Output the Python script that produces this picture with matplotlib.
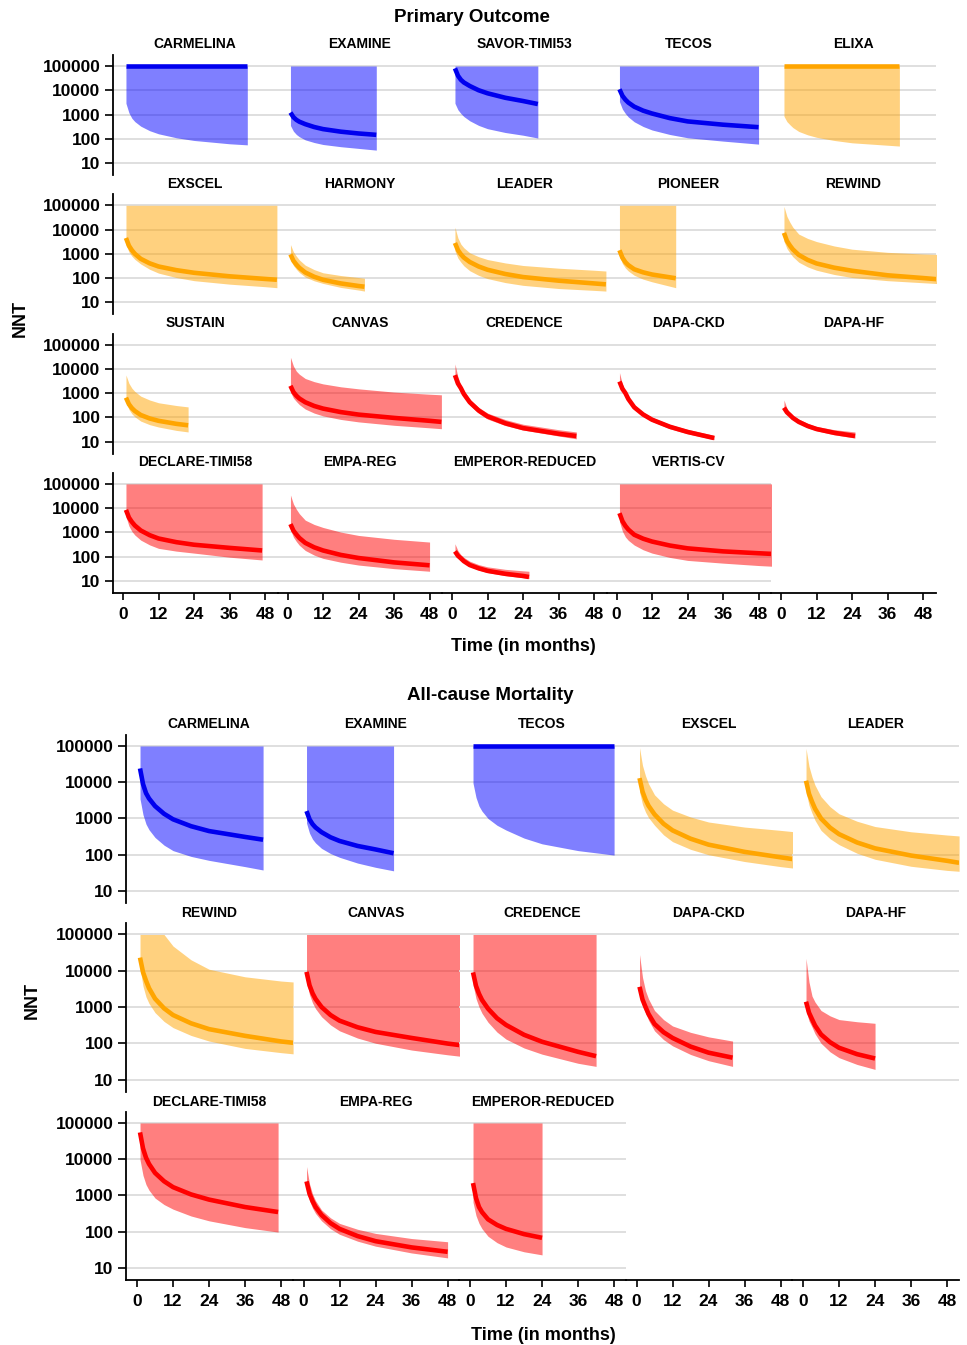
import matplotlib.pyplot as plt
from matplotlib.ticker import LogLocator, NullLocator, NullFormatter

plt.rcParams['font.family'] = ['Liberation Sans', 'DejaVu Sans']

W, H = 967, 1345
CAP = 100000  # upper limit that is drawn as "infinite"

# ---------------- Primary outcome ----------------
po_names = ['CARMELINA', 'EXAMINE', 'SAVOR-TIMI53', 'TECOS', 'ELIXA',
            'EXSCEL', 'HARMONY', 'LEADER', 'PIONEER', 'REWIND',
            'SUSTAIN', 'CANVAS', 'CREDENCE', 'DAPA-CKD', 'DAPA-HF',
            'DECLARE-TIMI58', 'EMPA-REG', 'EMPEROR-REDUCED', 'VERTIS-CV']
po_class = ['blue', 'blue', 'blue', 'blue', 'orange',
            'orange', 'orange', 'orange', 'orange', 'orange',
            'orange', 'red', 'red', 'red', 'red',
            'red', 'red', 'red', 'red']
po_months = [
    [1, 2, 3, 4, 6, 9, 12, 18, 24, 36, 42],
    [1, 2, 3, 4, 6, 9, 12, 18, 24, 30],
    [1, 2, 3, 4, 6, 9, 12, 18, 24, 29],
    [1, 2, 3, 4, 6, 9, 12, 18, 24, 36, 48],
    [1, 2, 3, 4, 6, 9, 12, 18, 24, 36, 40],
    [1, 2, 3, 4, 6, 9, 12, 18, 24, 36, 48, 52],
    [1, 2, 3, 4, 6, 9, 12, 18, 24, 26],
    [1, 2, 3, 4, 6, 9, 12, 18, 24, 36, 48, 52],
    [1, 2, 3, 4, 6, 9, 12, 20],
    [1, 2, 3, 4, 6, 9, 12, 18, 24, 36, 48, 53],
    [1, 2, 3, 4, 6, 9, 12, 18, 22],
    [1, 2, 3, 4, 6, 9, 12, 18, 24, 36, 48, 52],
    [1, 2, 3, 4, 6, 9, 12, 18, 24, 36, 42],
    [1, 2, 3, 4, 6, 9, 12, 18, 24, 33],
    [1, 2, 3, 4, 6, 9, 12, 18, 25],
    [1, 2, 3, 4, 6, 9, 12, 18, 24, 36, 47],
    [1, 2, 3, 4, 6, 9, 12, 18, 24, 36, 48],
    [1, 2, 3, 4, 6, 9, 12, 18, 24, 26],
    [1, 2, 3, 4, 6, 9, 12, 18, 24, 36, 48, 53],
]
po_nnt = [
    [CAP] * 11,
    [1200, 775, 600, 505, 400, 305, 250, 196, 165, 145],
    [80000, 40000, 27000, 21000, 15000, 10000, 7500, 4900, 3600, 2700],
    [11000, 5900, 4100, 3100, 2100, 1440, 1100, 710, 520, 380, 300],
    [CAP] * 11,
    [4500, 2150, 1400, 1000, 620, 405, 300, 212, 165, 118, 92, 85],
    [950, 515, 360, 265, 170, 113, 85, 60, 47, 44],
    [2800, 1420, 950, 700, 460, 300, 220, 147, 110, 78, 60, 55],
    [1400, 685, 450, 340, 230, 172, 140, 98],
    [7300, 3400, 2200, 1520, 900, 560, 400, 267, 200, 130, 100, 89],
    [650, 347, 240, 183, 125, 90, 72, 54, 47],
    [2000, 1100, 780, 600, 420, 295, 230, 165, 130, 95, 72, 65],
    [5500, 2500, 1600, 920, 420, 192, 110, 57, 36, 21, 17],
    [3000, 1500, 1000, 570, 260, 131, 80, 41, 25, 14],
    [250, 162, 125, 95, 65, 44, 33, 23, 17],
    [8500, 4100, 2700, 1930, 1200, 770, 560, 396, 310, 230, 180],
    [2200, 1180, 820, 590, 370, 243, 180, 118, 88, 58, 44],
    [165, 109, 85, 65, 45, 33, 26, 19.6, 16, 14.5],
    [6200, 2900, 1850, 1310, 800, 550, 420, 288, 220, 165, 138, 129],
]
po_lower = [
    [2900, 1180, 700, 510, 330, 215, 160, 110, 85, 62, 56],
    [350, 205, 150, 121, 90, 70, 58, 47, 40, 34],
    [2900, 1570, 1100, 825, 550, 355, 260, 181, 140, 107],
    [3400, 1670, 1100, 790, 500, 320, 230, 150, 110, 80, 60],
    [850, 510, 380, 290, 200, 145, 115, 85, 68, 54, 50],
    [2400, 1200, 800, 590, 380, 230, 160, 105, 78, 56, 44, 40],
    [600, 330, 230, 170, 110, 77, 60, 41, 32, 29],
    [1300, 665, 450, 320, 200, 129, 95, 65, 50, 37, 31, 29],
    [800, 395, 260, 195, 130, 90, 70, 40],
    [3300, 1650, 1100, 760, 450, 288, 210, 140, 105, 78, 64, 59],
    [430, 212, 140, 105, 70, 50, 40, 29, 25],
    [1100, 625, 450, 335, 220, 150, 115, 82, 65, 47, 37, 34],
    [4500, 1960, 1200, 690, 320, 147, 85, 46, 30, 17, 13],
    [2700, 1300, 850, 485, 220, 111, 68, 34, 21, 12],
    [220, 142, 110, 83, 56, 37, 28, 19, 14],
    [4500, 1850, 1100, 780, 480, 305, 220, 169, 140, 95, 73],
    [1300, 640, 420, 295, 180, 116, 85, 59, 45, 32, 25],
    [150, 97, 75, 58, 40, 28, 22, 16.5, 13.5, 12.5],
    [2800, 1115, 650, 470, 300, 192, 140, 93, 70, 54, 43, 40],
]
po_upper = [
    [CAP] * 11,
    [CAP] * 10,
    [CAP] * 10,
    [CAP] * 11,
    [CAP] * 11,
    [CAP] * 12,
    [2400, 1200, 800, 560, 340, 223, 165, 127, 105, 98],
    [12500, 4500, 2500, 1780, 1100, 760, 580, 420, 330, 255, 210, 195],
    [CAP] * 8,
    [90000, 35000, 20000, 12500, 6500, 4300, 3200, 2100, 1550, 1150, 980, 940],
    [5600, 2540, 1600, 1170, 750, 520, 400, 308, 270],
    [30000, 13000, 8000, 6000, 4000, 2970, 2400, 1820, 1500, 1100, 900, 850],
    [16000, 4600, 2200, 1250, 560, 260, 150, 81, 52, 31, 25],
    [7000, 2300, 1200, 700, 330, 164, 100, 51, 32, 18],
    [520, 237, 150, 119, 85, 56, 42, 31, 25],
    [CAP] * 11,
    [35000, 14900, 9000, 5900, 3200, 2130, 1600, 1030, 750, 520, 400],
    [340, 176, 120, 93, 65, 47, 38, 30, 26, 25],
    [CAP] * 12,
]

# ---------------- All-cause mortality ----------------
acm_names = ['CARMELINA', 'EXAMINE', 'TECOS', 'EXSCEL', 'LEADER',
             'REWIND', 'CANVAS', 'CREDENCE', 'DAPA-CKD', 'DAPA-HF',
             'DECLARE-TIMI58', 'EMPA-REG', 'EMPEROR-REDUCED']
acm_class = ['blue', 'blue', 'blue', 'orange', 'orange',
             'orange', 'red', 'red', 'red', 'red',
             'red', 'red', 'red']
acm_months = [
    [1, 2, 3, 4, 6, 9, 12, 18, 24, 36, 42],
    [1, 2, 3, 4, 6, 9, 12, 18, 24, 30],
    [1, 2, 3, 4, 6, 9, 12, 18, 24, 36, 48],
    [1, 2, 3, 4, 6, 9, 12, 18, 24, 36, 48, 52],
    [1, 2, 3, 4, 6, 9, 12, 18, 24, 36, 48, 52],
    [1, 2, 3, 4, 6, 9, 12, 18, 24, 36, 48, 52],
    [1, 2, 3, 4, 6, 9, 12, 18, 24, 36, 48, 52],
    [1, 2, 3, 4, 6, 9, 12, 18, 24, 36, 42],
    [1, 2, 3, 4, 6, 9, 12, 18, 24, 32],
    [1, 2, 3, 4, 6, 9, 12, 18, 24],
    [1, 2, 3, 4, 6, 9, 12, 18, 24, 36, 47],
    [1, 2, 3, 4, 6, 9, 12, 18, 24, 36, 48],
    [1, 2, 3, 4, 6, 9, 12, 18, 24],
]
acm_nnt = [
    [24000, 8900, 5000, 3560, 2200, 1350, 950, 613, 450, 310, 260],
    [1600, 950, 700, 567, 420, 303, 240, 175, 140, 110],
    [CAP] * 11,
    [13000, 5500, 3300, 2240, 1300, 716, 470, 277, 190, 120, 85, 76],
    [11000, 4750, 2900, 1870, 1000, 560, 370, 218, 150, 95, 68, 60],
    [23000, 9100, 5300, 3300, 1700, 920, 600, 355, 245, 160, 112, 103],
    [9300, 3960, 2400, 1670, 1000, 600, 420, 276, 205, 140, 98, 89],
    [9000, 3800, 2300, 1560, 900, 490, 320, 171, 110, 58, 44],
    [3600, 1600, 1000, 640, 340, 202, 140, 81, 55, 40],
    [1400, 694, 460, 308, 175, 107, 75, 50, 38],
    [55000, 19900, 11000, 7400, 4200, 2475, 1700, 1070, 770, 480, 350],
    [2450, 1110, 700, 485, 290, 173, 120, 76, 55, 37, 28],
    [2200, 842, 480, 347, 220, 154, 120, 86, 68],
]
acm_lower = [
    [3500, 1270, 700, 490, 300, 184, 130, 90, 70, 47, 38],
    [750, 394, 270, 212, 150, 108, 85, 59, 45, 36],
    [9500, 3800, 2200, 1590, 1000, 650, 480, 288, 200, 130, 98],
    [5500, 2420, 1500, 1060, 650, 354, 230, 141, 100, 65, 47, 43],
    [5500, 2320, 1400, 890, 470, 277, 190, 110, 75, 48, 37, 35],
    [12000, 3750, 1900, 1250, 700, 400, 270, 164, 115, 72, 55, 51],
    [5200, 2170, 1300, 900, 540, 320, 220, 139, 100, 65, 48, 44],
    [4200, 1700, 1000, 670, 380, 203, 130, 74, 50, 28, 23],
    [2200, 1070, 700, 433, 220, 126, 85, 49, 33, 23],
    [800, 412, 280, 183, 100, 58, 40, 26, 19],
    [9700, 3580, 2000, 1400, 850, 563, 420, 272, 200, 130, 98],
    [1600, 718, 450, 321, 200, 121, 85, 55, 40, 26, 19],
    [650, 279, 170, 121, 75, 50, 38, 28, 23],
]
acm_upper = [
    [CAP] * 11,
    [CAP] * 10,
    [CAP] * 11,
    [90000, 29000, 15000, 9100, 4500, 2550, 1700, 1100, 800, 580, 470, 435],
    [86000, 27400, 14000, 8300, 4000, 2120, 1350, 840, 600, 430, 350, 330],
    [CAP, CAP, CAP, CAP, CAP, CAP, 48000, 20000, 11000, 6800, 5200, 4900],
    [CAP] * 12,
    [CAP] * 11,
    [28000, 6550, 2800, 1670, 800, 450, 300, 200, 150, 115],
    [22000, 4850, 2000, 1370, 800, 570, 450, 392, 355],
    [CAP] * 11,
    [6300, 2100, 1100, 723, 400, 242, 170, 117, 90, 65, 53],
    [CAP] * 9,
]

line_col = {'blue': '#0000ee', 'orange': '#ffa500', 'red': '#ff0000'}
band_col = {'blue': '#0000ff', 'orange': '#ffa500', 'red': '#ff0000'}
decades = [10, 100, 1000, 10000, 100000]
month_ticks = [0, 12, 24, 36, 48]


def px_axes(fig, left, top, width, height):
    return fig.add_axes([left / W, 1 - (top + height) / H, width / W, height / H])


def draw_block(fig, names, klass, months, nnt, lower, upper,
               left0, top0, cw, ch, pitch, ylim, xlim, nrows, minor, lw):
    for r in range(nrows):
        for c in range(5):
            i = r * 5 + c
            ax = px_axes(fig, left0 + c * cw, top0 + r * pitch, cw, ch)
            ax.set_facecolor('none')
            ax.set_yscale('log')
            ax.set_ylim(*ylim)
            ax.set_xlim(*xlim)
            for s in ['top', 'right']:
                ax.spines[s].set_visible(False)
            ax.spines['left'].set_visible(c == 0)
            ax.spines['bottom'].set_visible(r == nrows - 1)
            ax.spines['left'].set_linewidth(1.3)
            ax.spines['bottom'].set_linewidth(1.3)

            ax.set_yticks(decades)
            ax.set_yticklabels([str(d) for d in decades], fontweight='bold')
            if minor:
                ax.yaxis.set_minor_locator(LogLocator(base=10, subs=range(2, 10)))
            else:
                ax.yaxis.set_minor_locator(NullLocator())
            ax.yaxis.set_minor_formatter(NullFormatter())
            ax.tick_params(axis='y', which='major', length=6, width=1.2,
                           labelsize=12.5, pad=3, left=(c == 0), labelleft=(c == 0))
            ax.tick_params(axis='y', which='minor', length=3, width=0.8,
                           left=(c == 0 and minor))
            ax.set_xticks(month_ticks)
            ax.set_xticklabels([str(m) for m in month_ticks], fontweight='bold')
            ax.tick_params(axis='x', length=5, width=1.2, labelsize=12.5, pad=5,
                           bottom=(r == nrows - 1), labelbottom=(r == nrows - 1))

            if i >= len(names):
                continue

            ax.grid(True, axis='y', which='major', color='#dcdcdc', lw=1.3, zorder=0)
            if minor:
                ax.grid(True, axis='y', which='minor', color='#ececec', lw=0.7, zorder=0)
            ax.set_axisbelow(True)

            k = klass[i]
            ax.fill_between(months[i], lower[i], upper[i], color=band_col[k],
                            alpha=0.5, lw=0, zorder=2)
            ax.plot(months[i], nnt[i], color=line_col[k], lw=lw,
                    solid_capstyle='butt', solid_joinstyle='round', zorder=3)
            ax.text(0.5, 1 + 10.5 / ch, names[i], transform=ax.transAxes,
                    ha='center', va='center', fontsize=10, fontweight='bold')


fig = plt.figure(figsize=(W / 100, H / 100), dpi=100)

# top block: Primary Outcome
draw_block(fig, po_names, po_class, po_months, po_nnt, po_lower, po_upper,
           left0=113, top0=55, cw=164.5, ch=120, pitch=139.3,
           ylim=(10 ** 0.505, 10 ** 5.454), xlim=(-3.38, 52.2),
           nrows=4, minor=False, lw=3.3)
fig.text(472 / W, 1 - 17 / H, 'Primary Outcome', ha='center', va='center',
         fontsize=13.5, fontweight='bold')
fig.text(523 / W, 1 - 647 / H, 'Time (in months)', ha='center', va='center',
         fontsize=13, fontweight='bold')
fig.text(20 / W, 1 - 318 / H, 'NNT', ha='center', va='center', rotation=90,
         fontsize=13, fontweight='bold')

# bottom block: All-cause Mortality
draw_block(fig, acm_names, acm_class, acm_months, acm_nnt, acm_lower, acm_upper,
           left0=126, top0=735, cw=166.5, ch=168, pitch=188.5,
           ylim=(10 ** 0.669, 10 ** 5.303), xlim=(-3.67, 51.8),
           nrows=3, minor=True, lw=3.3)
fig.text(490 / W, 1 - 695 / H, 'All-cause Mortality', ha='center', va='center',
         fontsize=13.5, fontweight='bold')
fig.text(543 / W, 1 - 1335 / H, 'Time (in months)', ha='center', va='center',
         fontsize=13, fontweight='bold')
fig.text(32 / W, 1 - 1000 / H, 'NNT', ha='center', va='center', rotation=90,
         fontsize=13, fontweight='bold')

fig.savefig('out.png', dpi=100)
